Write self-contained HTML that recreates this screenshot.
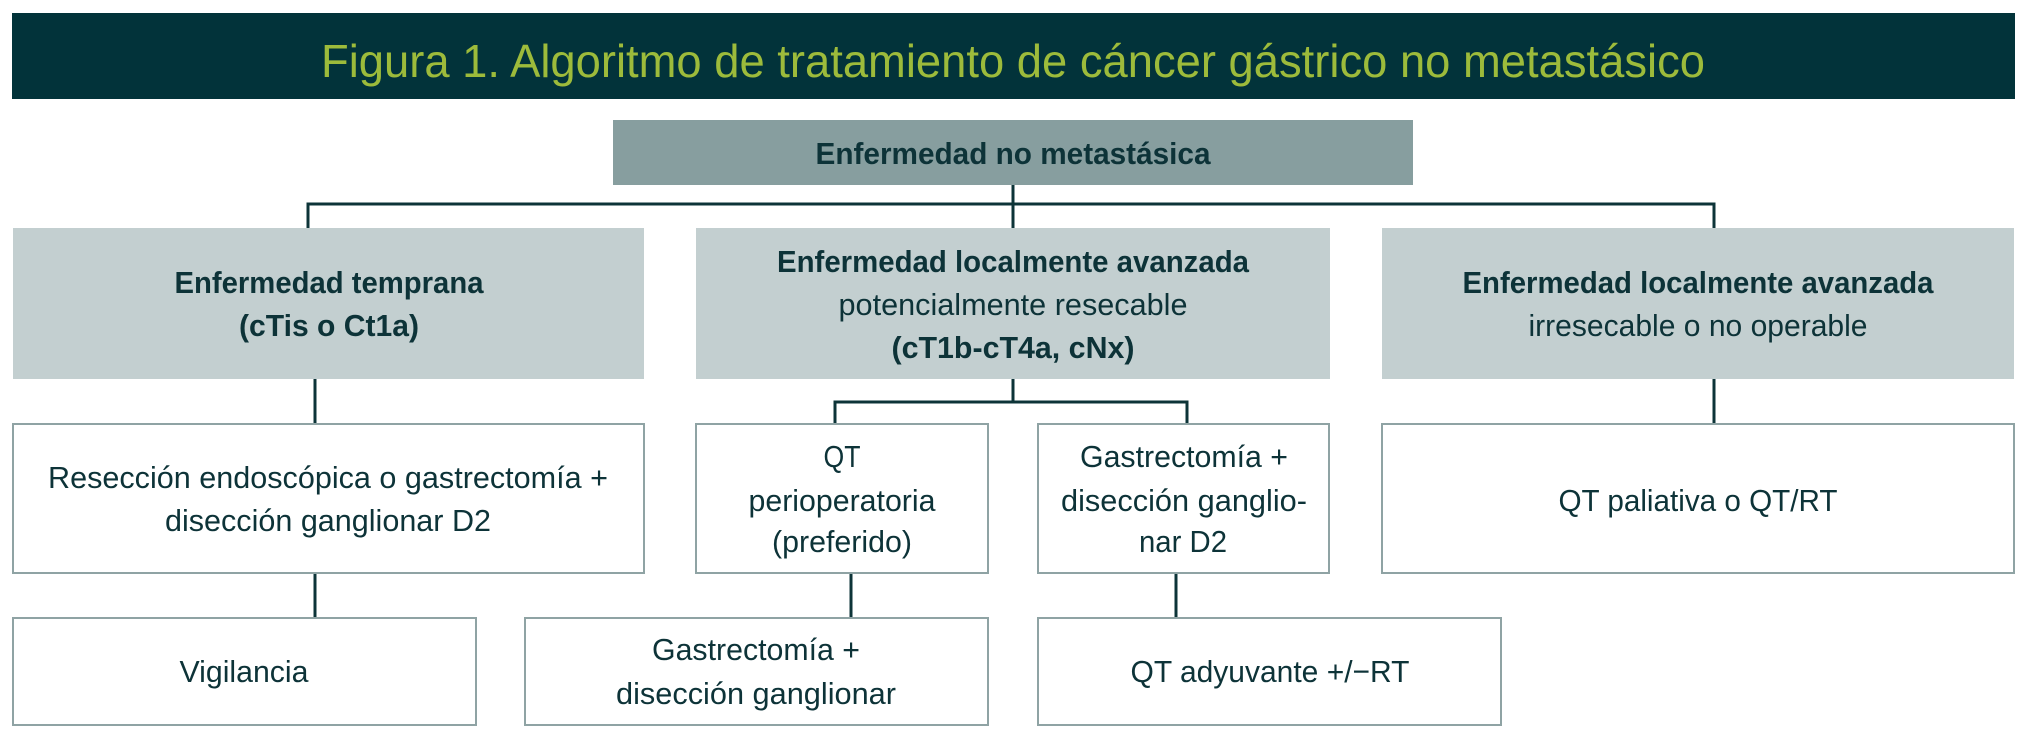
<!DOCTYPE html>
<html><head><meta charset="utf-8"><style>
html,body{margin:0;padding:0;background:#fff;}
svg{display:block;}
text{font-family:"Liberation Sans",sans-serif;fill:#0d3338;}
.b{font-weight:bold;font-size:31px;}
.r{font-size:31px;}
</style></head><body>
<svg width="2026" height="743" viewBox="0 0 2026 743" xmlns="http://www.w3.org/2000/svg">
<rect x="12" y="13" width="2003" height="86" fill="#02333a"/>
<text x="1013" y="77" text-anchor="middle" font-size="46" style="fill:#9dbb3b" textLength="1384" lengthAdjust="spacingAndGlyphs">Figura 1. Algoritmo de tratamiento de cáncer gástrico no metastásico</text>

<rect x="613" y="120" width="800" height="65" fill="#879e9f"/>
<text class="b" x="1013" y="164" text-anchor="middle" textLength="395" lengthAdjust="spacingAndGlyphs">Enfermedad no metastásica</text>

<g stroke="#0d3438" stroke-width="3" fill="none">
<path d="M1013 185 V228"/>
<path d="M308 228 V204 H1714 V228"/>
<path d="M315 379 V424"/>
<path d="M1013 379 V402 M835 424 V402 H1187 V424"/>
<path d="M1714 379 V424"/>
<path d="M315 573 V618"/>
<path d="M851 573 V618"/>
<path d="M1176 573 V618"/>
</g>

<rect x="13" y="228" width="631" height="151" fill="#c3cfd0"/>
<rect x="696" y="228" width="634" height="151" fill="#c3cfd0"/>
<rect x="1382" y="228" width="632" height="151" fill="#c3cfd0"/>
<text class="b" x="329" y="293" text-anchor="middle" textLength="309" lengthAdjust="spacingAndGlyphs">Enfermedad temprana</text>
<text class="b" x="329" y="336" text-anchor="middle" textLength="180" lengthAdjust="spacingAndGlyphs">(cTis o Ct1a)</text>
<text class="b" x="1013" y="272" text-anchor="middle" textLength="472" lengthAdjust="spacingAndGlyphs">Enfermedad localmente avanzada</text>
<text class="r" x="1013" y="315" text-anchor="middle" textLength="349" lengthAdjust="spacingAndGlyphs">potencialmente resecable</text>
<text class="b" x="1013" y="358" text-anchor="middle" textLength="243" lengthAdjust="spacingAndGlyphs">(cT1b-cT4a, cNx)</text>
<text class="b" x="1698" y="293" text-anchor="middle" textLength="471" lengthAdjust="spacingAndGlyphs">Enfermedad localmente avanzada</text>
<text class="r" x="1698" y="336" text-anchor="middle" textLength="339" lengthAdjust="spacingAndGlyphs">irresecable o no operable</text>

<g fill="#fff" stroke="#8fa3a4" stroke-width="2">
<rect x="13" y="424" width="631" height="149"/>
<rect x="696" y="424" width="292" height="149"/>
<rect x="1038" y="424" width="291" height="149"/>
<rect x="1382" y="424" width="632" height="149"/>
<rect x="13" y="618" width="463" height="107"/>
<rect x="525" y="618" width="463" height="107"/>
<rect x="1038" y="618" width="463" height="107"/>
</g>
<text class="r" x="328" y="488" text-anchor="middle" textLength="560" lengthAdjust="spacingAndGlyphs">Resección endoscópica o gastrectomía +</text>
<text class="r" x="328" y="531" text-anchor="middle" textLength="326" lengthAdjust="spacingAndGlyphs">disección ganglionar D2</text>
<text class="r" x="842" y="467" text-anchor="middle" textLength="37" lengthAdjust="spacingAndGlyphs">QT</text>
<text class="r" x="842" y="511" text-anchor="middle" textLength="187" lengthAdjust="spacingAndGlyphs">perioperatoria</text>
<text class="r" x="842" y="552" text-anchor="middle" textLength="140" lengthAdjust="spacingAndGlyphs">(preferido)</text>
<text class="r" x="1184" y="467" text-anchor="middle" textLength="208" lengthAdjust="spacingAndGlyphs">Gastrectomía +</text>
<text class="r" x="1184" y="511" text-anchor="middle" textLength="246" lengthAdjust="spacingAndGlyphs">disección ganglio-</text>
<text class="r" x="1183" y="552" text-anchor="middle" textLength="88" lengthAdjust="spacingAndGlyphs">nar D2</text>
<text class="r" x="1698" y="511" text-anchor="middle" textLength="279" lengthAdjust="spacingAndGlyphs">QT paliativa o QT/RT</text>
<text class="r" x="244" y="682" text-anchor="middle" textLength="129" lengthAdjust="spacingAndGlyphs">Vigilancia</text>
<text class="r" x="756" y="660" text-anchor="middle" textLength="208" lengthAdjust="spacingAndGlyphs">Gastrectomía +</text>
<text class="r" x="756" y="704" text-anchor="middle" textLength="280" lengthAdjust="spacingAndGlyphs">disección ganglionar</text>
<text class="r" x="1270" y="682" text-anchor="middle" textLength="279" lengthAdjust="spacingAndGlyphs">QT adyuvante +/−RT</text>
</svg>
</body></html>
